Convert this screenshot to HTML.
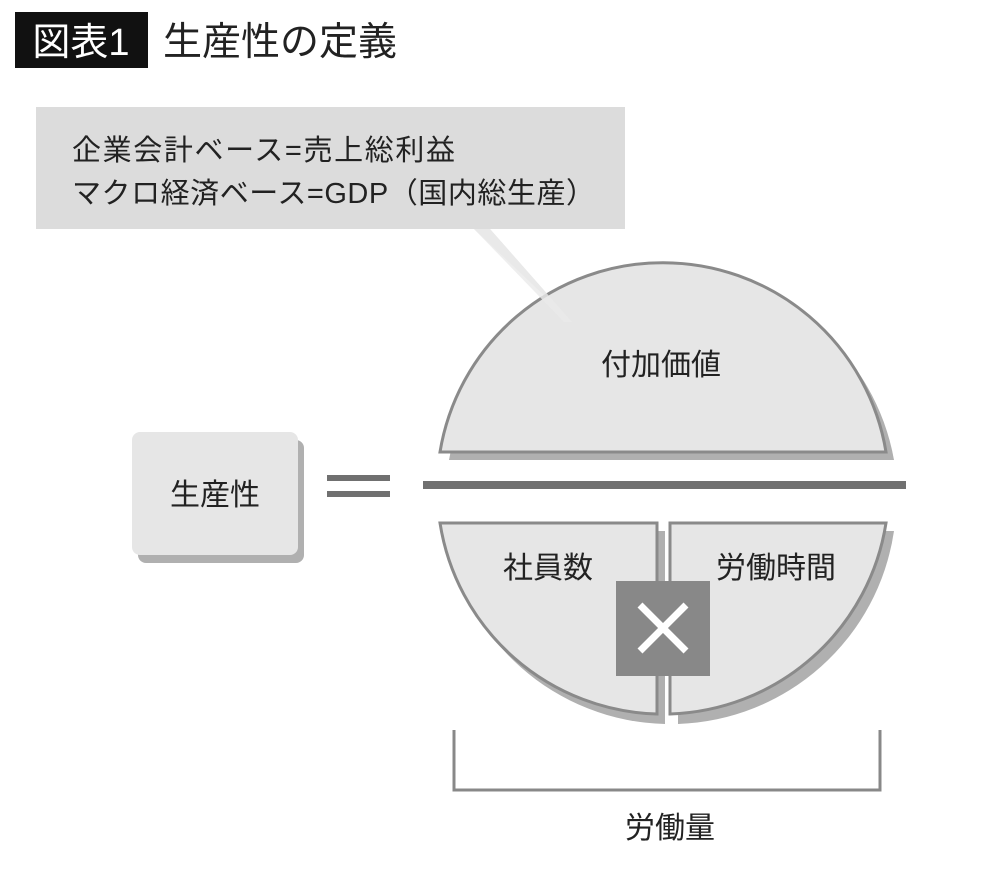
<!DOCTYPE html>
<html><head><meta charset="utf-8"><style>
body{margin:0;background:#fff;}
text{font-family:"Liberation Sans","Noto Sans CJK JP",sans-serif;}
</style></head><body>
<svg width="1000" height="880" viewBox="0 0 1000 880" xmlns="http://www.w3.org/2000/svg">
<rect x="15" y="12" width="133" height="56" fill="#111"/>
<text x="81" y="55" font-size="38" fill="#fff" text-anchor="middle">図表1</text>
<text x="163" y="55" font-size="39" fill="#222">生産性の定義</text>
<rect x="36" y="107" width="589" height="122" fill="#dcdcdc"/>
<text x="72" y="160" font-size="29" fill="#222" textLength="383" lengthAdjust="spacing">企業会計ベース=売上総利益</text>
<text x="72" y="203" font-size="29" fill="#222" textLength="523" lengthAdjust="spacing">マクロ経済ベース=GDP（国内総生産）</text>
<polygon points="474,229 490,229 572,322" fill="#e4e4e4"/>
<path d="M449,460 L894,460 A226,226 0 0 0 449,460 Z" fill="#b0b0b0"/>
<path d="M440,452 L886,452 A226,226 0 0 0 440,452 Z" fill="#e6e6e6" stroke="#8a8a8a" stroke-width="3"/>
<polygon points="474,229 490,229 572,322 564,322" fill="#eaeaea" opacity="0.8"/>
<text x="661" y="375" font-size="30" text-anchor="middle" fill="#222">付加価値</text>
<path d="M447,531 L665,531 L665,724 A226,226 0 0 1 447,531 Z" fill="#b0b0b0"/>
<path d="M678,531 L894,531 A226,226 0 0 1 678,724 Z" fill="#b0b0b0"/>
<path d="M440,523 L657,523 L657,714 A226,226 0 0 1 440,523 Z" fill="#e6e6e6" stroke="#8a8a8a" stroke-width="3"/>
<path d="M670,523 L886,523 A226,226 0 0 1 670,714 Z" fill="#e6e6e6" stroke="#8a8a8a" stroke-width="3"/>
<text x="548" y="578" font-size="30" text-anchor="middle" fill="#222">社員数</text>
<text x="776" y="578" font-size="30" text-anchor="middle" fill="#222">労働時間</text>
<rect x="616" y="581" width="94" height="95" fill="#888"/>
<path d="M640,605 L686,651 M686,605 L640,651" stroke="#fff" stroke-width="7"/>
<rect x="423" y="481" width="483" height="8" fill="#707070"/>
<rect x="138" y="440" width="166" height="123" rx="8" fill="#b0b0b0"/>
<rect x="132" y="432" width="166" height="123" rx="8" fill="#e6e6e6"/>
<text x="215" y="505" font-size="30" text-anchor="middle" fill="#222">生産性</text>
<rect x="327" y="475" width="63" height="6" fill="#707070"/>
<rect x="327" y="491" width="63" height="6" fill="#707070"/>
<path d="M454,730 L454,790 L880,790 L880,730" fill="none" stroke="#888" stroke-width="3"/>
<text x="670" y="838" font-size="30" text-anchor="middle" fill="#222">労働量</text>
</svg>
</body></html>
